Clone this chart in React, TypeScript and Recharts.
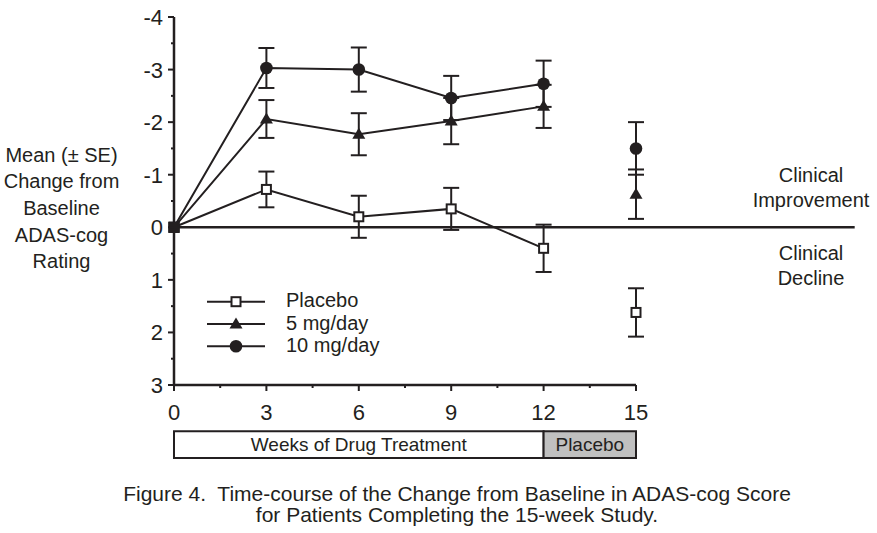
import React from 'react';
import {
  ComposedChart,
  Line,
  XAxis,
  YAxis,
  ErrorBar,
  ReferenceLine,
  ReferenceArea,
  Legend,
} from 'recharts';

// ---- data ----
const weeks = [0, 3, 6, 9, 12, 15];
const placeboMean = [0, -0.72, -0.2, -0.35, 0.4, 1.62];
const placeboSE = [null, 0.34, 0.4, 0.4, 0.45, 0.46];
const mg5Mean = [0, -2.06, -1.77, -2.02, -2.3, -0.63];
const mg5SE = [null, 0.36, 0.4, 0.44, 0.41, 0.47];
const mg10Mean = [0, -3.03, -3.0, -2.46, -2.73, -1.5];
const mg10SE = [null, 0.38, 0.42, 0.42, 0.44, 0.5];
const lastDrugWeek = 12;
const lastWeek = 15;

const yTicks = [-4, -3.5, -3, -2.5, -2, -1.5, -1, -0.5, 0, 0.5, 1, 1.5, 2, 2.5, 3];
const xTicks = [0, 1.5, 3, 4.5, 6, 7.5, 9, 10.5, 12, 13.5, 15];

const yLabelLines = ['Mean (\u00B1 SE)', 'Change from', 'Baseline', 'ADAS-cog', 'Rating'];
const improvementLines = ['Clinical', 'Improvement'];
const declineLines = ['Clinical', 'Decline'];
const captionLines = [
  'Figure 4.  Time-course of the Change from Baseline in ADAS-cog Score',
  'for Patients Completing the 15-week Study.',
];
const phaseDrugLabel = 'Weeks of Drug Treatment';
const phasePlaceboLabel = 'Placebo';

type MarkerShape = 'square' | 'triangle' | 'circle';
const series: { key: string; name: string; mean: number[]; se: (number | null)[]; marker: MarkerShape }[] = [
  { key: 'placebo', name: 'Placebo', mean: placeboMean, se: placeboSE, marker: 'square' },
  { key: 'mg5', name: '5 mg/day', mean: mg5Mean, se: mg5SE, marker: 'triangle' },
  { key: 'mg10', name: '10 mg/day', mean: mg10Mean, se: mg10SE, marker: 'circle' },
];

const rows = weeks.map((w, i) => {
  const row: Record<string, number | null> = { week: w };
  series.forEach((s) => {
    const on = w <= lastDrugWeek;
    row[s.key + 'On'] = on ? s.mean[i] : null;
    row[s.key + 'OnSE'] = on ? s.se[i] : null;
    row[s.key + 'Off'] = on ? null : s.mean[i];
    row[s.key + 'OffSE'] = on ? null : s.se[i];
  });
  return row;
});

// ---- style ----
const ink = '#231f20';
const font = '"Liberation Sans", Arial, Helvetica, sans-serif';
const W = 877;
const H = 533;

function Marker({ shape, cx, cy, base }: { shape: MarkerShape; cx: number; cy: number; base?: boolean }) {
  if (base) {
    return <rect x={cx - 5.5} y={cy - 5.5} width={11} height={11} fill={ink} />;
  }
  if (shape === 'square') {
    return <rect x={cx - 4.5} y={cy - 4.5} width={9} height={9} fill="#fff" stroke={ink} strokeWidth={2} />;
  }
  if (shape === 'triangle') {
    return <polygon points={`${cx},${cy - 6.5} ${cx + 6.5},${cy + 4.5} ${cx - 6.5},${cy + 4.5}`} fill={ink} />;
  }
  return <circle cx={cx} cy={cy} r={6.3} fill={ink} />;
}

const makeDot = (shape: MarkerShape, k: string) => (p: any) => {
  const key = `${k}-${p.index}`;
  if (p.cx == null || p.cy == null || p.value == null || Number.isNaN(p.cy)) return <g key={key} />;
  const base = p.payload && p.payload.week === 0;
  return (
    <g key={key}>
      <Marker shape={shape} cx={p.cx} cy={p.cy} base={base} />
    </g>
  );
};

const YTick = (props: any) => {
  const { x, y, payload } = props;
  const v = payload.value;
  const major = Number.isInteger(v);
  return (
    <g>
      <line x1={x - (major ? 6 : 3)} x2={x} y1={y} y2={y} stroke={ink} strokeWidth={2} />
      {major && (
        <text x={x - 11} y={y + 8} textAnchor="end" fontSize={22} fill={ink} fontFamily={font}>
          {String(v)}
        </text>
      )}
    </g>
  );
};

const XTick = (props: any) => {
  const { x, y, payload } = props;
  const v = payload.value;
  const major = Number.isInteger(v) && v % 3 === 0;
  return (
    <g>
      <line x1={x} x2={x} y1={y} y2={y + (major ? 6 : 3)} stroke={ink} strokeWidth={2} />
      {major && (
        <text x={x} y={y + 35} textAnchor="middle" fontSize={22} fill={ink} fontFamily={font}>
          {String(v)}
        </text>
      )}
    </g>
  );
};

const LegendContent = () => (
  <svg width={200} height={70} style={{ overflow: 'visible', display: 'block' }}>
    {series.map((s, i) => {
      const cy = 10.7 + i * 22.3;
      return (
        <g key={s.key}>
          <line x1={0} x2={58} y1={cy} y2={cy} stroke={ink} strokeWidth={2} />
          <Marker shape={s.marker} cx={29} cy={cy} />
          <text x={79} y={cy + 5.5} fontSize={20} fill={ink} fontFamily={font}>
            {s.name}
          </text>
        </g>
      );
    })}
  </svg>
);

export default function App() {
  return (
    <div style={{ position: 'absolute', left: 0, top: 0, width: W, height: H, background: '#fff', fontFamily: font }}>
      <ComposedChart
        width={W}
        height={H}
        data={rows}
        margin={{ top: 17, right: 241, bottom: 118, left: 114 }}
      >
        <XAxis
          dataKey="week"
          type="number"
          domain={[0, lastWeek]}
          ticks={xTicks}
          interval={0}
          axisLine={{ stroke: ink, strokeWidth: 2.5 }}
          tickLine={false}
          tickSize={0}
          tickMargin={0}
          tick={<XTick />}
          height={30}
        />
        <YAxis
          type="number"
          domain={[-4, 3]}
          reversed
          ticks={yTicks}
          interval={0}
          axisLine={{ stroke: ink, strokeWidth: 2.5 }}
          tickLine={false}
          tickSize={0}
          tickMargin={0}
          tick={<YTick />}
          width={60}
        />
        <ReferenceLine
          segment={[
            { x: 0, y: 0 },
            { x: 22.1, y: 0 },
          ]}
          ifOverflow="visible"
          stroke={ink}
          strokeWidth={2.5}
        />
        <ReferenceArea
          x1={0}
          x2={lastDrugWeek}
          y1={3.88}
          y2={4.39}
          ifOverflow="visible"
          fill="#ffffff"
          fillOpacity={1}
          stroke={ink}
          strokeWidth={2}
          label={{ value: phaseDrugLabel, position: 'center', fill: ink, fontSize: 19, fontFamily: font }}
        />
        <ReferenceArea
          x1={lastDrugWeek}
          x2={lastWeek}
          y1={3.88}
          y2={4.39}
          ifOverflow="visible"
          fill="#c0c0c0"
          fillOpacity={1}
          stroke={ink}
          strokeWidth={2}
          label={{ value: phasePlaceboLabel, position: 'center', fill: ink, fontSize: 19, fontFamily: font }}
        />
        {series.map((s) => (
          <Line
            key={s.key + 'On'}
            dataKey={s.key + 'On'}
            name={s.name}
            stroke={ink}
            strokeWidth={2}
            dot={makeDot(s.marker, s.key + 'On')}
            activeDot={false}
            connectNulls={false}
            isAnimationActive={false}
          >
            <ErrorBar dataKey={s.key + 'OnSE'} width={8} strokeWidth={2} stroke={ink} direction="y" />
          </Line>
        ))}
        {series.map((s) => (
          <Line
            key={s.key + 'Off'}
            dataKey={s.key + 'Off'}
            name={s.name}
            stroke="none"
            strokeWidth={0}
            dot={makeDot(s.marker, s.key + 'Off')}
            activeDot={false}
            connectNulls={false}
            isAnimationActive={false}
          >
            <ErrorBar dataKey={s.key + 'OffSE'} width={8} strokeWidth={2} stroke={ink} direction="y" />
          </Line>
        ))}
        <Legend
          layout="vertical"
          align="center"
          verticalAlign="middle"
          content={<LegendContent />}
          wrapperStyle={{ left: 207, top: 291, width: 200, height: 70 }}
        />
      </ComposedChart>
      <svg
        width={W}
        height={H}
        style={{ position: 'absolute', left: 0, top: 0, pointerEvents: 'none' }}
      >
        {yLabelLines.map((t, i) => (
          <text key={'yl' + i} x={61.5} y={161.8 + i * 26.6} textAnchor="middle" fontSize={20} fill={ink} fontFamily={font}>
            {t}
          </text>
        ))}
        {improvementLines.map((t, i) => (
          <text key={'im' + i} x={811} y={181.7 + i * 25.6} textAnchor="middle" fontSize={20} fill={ink} fontFamily={font}>
            {t}
          </text>
        ))}
        {declineLines.map((t, i) => (
          <text key={'de' + i} x={811} y={260 + i * 25.3} textAnchor="middle" fontSize={20} fill={ink} fontFamily={font}>
            {t}
          </text>
        ))}
        {captionLines.map((t, i) => (
          <text
            key={'cap' + i}
            x={457}
            y={501 + i * 21}
            textAnchor="middle"
            fontSize={21}
            fill={ink}
            fontFamily={font}
            style={{ whiteSpace: 'pre' }}
          >
            {t}
          </text>
        ))}
      </svg>
    </div>
  );
}
